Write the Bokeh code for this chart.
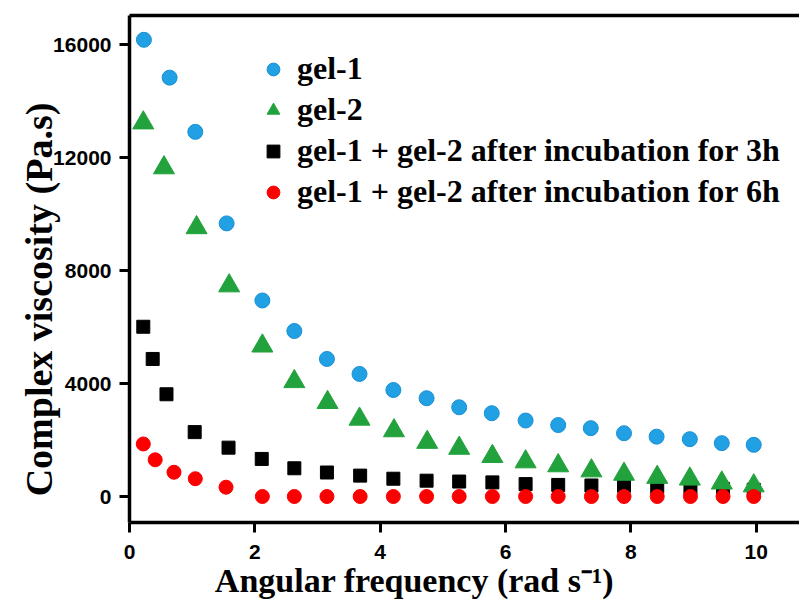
import math
from bokeh.plotting import figure
from bokeh.models import Legend, LegendItem, LinearAxis, FixedTicker, Range1d, Label
from bokeh.embed import file_html
from bokeh.resources import INLINE

# ---- data ----
gel1_x = [0.23, 0.64, 1.05, 1.55, 2.12, 2.63, 3.15, 3.67, 4.21, 4.74, 5.26, 5.78, 6.32, 6.84, 7.36, 7.89, 8.41, 8.94, 9.45, 9.96]
gel1_y = [16170, 14830, 12910, 9670, 6940, 5860, 4870, 4340, 3770, 3480, 3160, 2950, 2690, 2530, 2420, 2240, 2120, 2030, 1890, 1830]

gel2_x = [0.22, 0.55, 1.07, 1.59, 2.12, 2.63, 3.16, 3.67, 4.22, 4.75, 5.26, 5.79, 6.32, 6.84, 7.37, 7.89, 8.42, 8.94, 9.45, 9.96]
gel2_y = [13230, 11640, 9520, 7460, 5330, 4070, 3330, 2740, 2330, 1920, 1710, 1420, 1230, 1090, 910, 790, 680, 620, 480, 380]

mix3_x = [0.22, 0.37, 0.59, 1.04, 1.58, 2.11, 2.63, 3.15, 3.68, 4.21, 4.74, 5.26, 5.79, 6.32, 6.84, 7.37, 7.89, 8.42, 8.95, 9.47, 9.96]
mix3_y = [6010, 4870, 3620, 2280, 1730, 1330, 1000, 850, 740, 630, 560, 530, 500, 440, 410, 390, 380, 340, 310, 270, 240]

mix6_x = [0.22, 0.41, 0.71, 1.05, 1.54, 2.12, 2.63, 3.15, 3.68, 4.21, 4.74, 5.26, 5.79, 6.32, 6.84, 7.37, 7.89, 8.42, 8.95, 9.47, 9.96]
mix6_y = [1860, 1300, 860, 630, 330, 0, 0, 0, 0, 0, 0, 0, 0, 0, 0, 0, 0, 0, 0, 0, 0]

labels = ["gel-1", "gel-2",
          "gel-1 + gel-2 after incubation for 3h",
          "gel-1 + gel-2 after incubation for 6h"]
x_title = "Angular frequency (rad s\u207b\u00b9)"
y_title = "Complex viscosity (Pa.s)"
x_ticks = [0, 2, 4, 6, 8, 10]
y_ticks = [0, 4000, 8000, 12000, 16000]

p = figure(width=799, height=609, output_backend="svg", toolbar_location=None,
           x_range=Range1d(0, 10.69), y_range=Range1d(-920, 17030),
           min_border_left=129, min_border_right=0, min_border_top=15, min_border_bottom=87,
           background_fill_color="white", border_fill_color="white")
p.outline_line_color = None
p.xgrid.visible = False
p.ygrid.visible = False

r1 = p.scatter(gel1_x, gel1_y, marker="circle", size=15, fill_color="#22a0e4", line_color="#1a90d4", line_width=1)
r3 = p.scatter(mix3_x, mix3_y, marker="square", size=13, fill_color="black", line_color="black")
r2 = p.scatter(gel2_x, gel2_y, marker="triangle", size=21, fill_color="#22a23c", line_color="#22a23c")
r4 = p.scatter(mix6_x, mix6_y, marker="circle", size=14, fill_color="#fa0000", line_color="#fa0000")

for ax in (p.xaxis[0], p.yaxis[0]):
    ax.axis_line_width = 3.5
    ax.axis_line_color = "black"
    ax.major_tick_line_width = 3
    ax.major_tick_out = 10
    ax.major_tick_in = 0
    ax.minor_tick_out = 0
    ax.minor_tick_in = 0
    ax.major_label_text_font = "Liberation Sans"
    ax.major_label_text_font_style = "bold"
    ax.major_label_text_font_size = "21px"
    ax.major_label_text_color = "black"
    ax.major_label_standoff = 8

p.xaxis[0].major_label_standoff = 12
p.xaxis[0].ticker = FixedTicker(ticks=x_ticks)
p.yaxis[0].ticker = FixedTicker(ticks=y_ticks)

top = LinearAxis(ticker=FixedTicker(ticks=[]), major_label_text_font_size="0px",
                 major_tick_out=0, major_tick_in=0, minor_tick_out=0, minor_tick_in=0,
                 axis_line_width=3.5, axis_line_color="black")
p.add_layout(top, "above")

# axis titles, placed in canvas units (origin top-left)
p.add_layout(Label(x=414, y=580, x_units="canvas", y_units="canvas", text=x_title,
                   text_align="center", text_baseline="alphabetic",
                   text_font="Liberation Serif", text_font_style="bold",
                   text_font_size="34px", text_color="black"), "below")
p.add_layout(Label(x=38, y=299, x_units="canvas", y_units="canvas", text=y_title,
                   angle=math.pi / 2, text_align="center", text_baseline="middle",
                   text_font="Liberation Serif", text_font_style="bold",
                   text_font_size="38px", text_color="black"), "left")

legend = Legend(items=[LegendItem(label=labels[0], renderers=[r1]),
                       LegendItem(label=labels[1], renderers=[r2]),
                       LegendItem(label=labels[2], renderers=[r3]),
                       LegendItem(label=labels[3], renderers=[r4])],
                location=(128, 310), margin=0, padding=0, spacing=0,
                glyph_width=32, glyph_height=32, label_height=41, label_standoff=8,
                label_text_font="Liberation Serif", label_text_font_style="bold",
                label_text_font_size="32px", label_text_color="black",
                border_line_color=None, background_fill_alpha=0)
p.add_layout(legend)

open("out.html", "w").write(file_html(p, INLINE))
